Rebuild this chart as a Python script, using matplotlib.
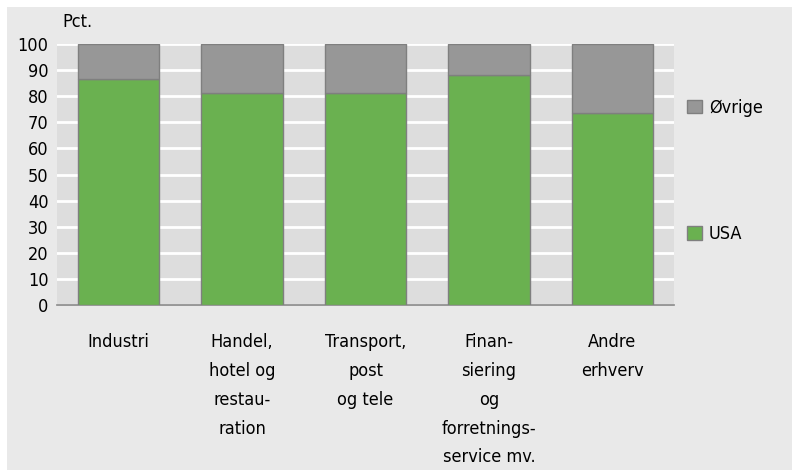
import matplotlib.pyplot as plt
from matplotlib.patches import Rectangle, Patch
import numpy as np

categories = ['Industri', 'Handel,\nhotel og\nrestau-\nration', 'Transport,\npost\nog tele',
              'Finan-\nsiering\nog\nforretnings-\nservice mv.', 'Andre\nerhverv']
usa = [86.5, 81.2, 81.4, 88.0, 73.5]
ovrige = [100 - v for v in usa]

GREEN = '#6ab150'
GREY = '#979797'
EDGE = '#7f7f7f'
PANEL = '#e9e9e9'
PLOTBG = '#dddddd'

plt.rcParams['font.family'] = ['DejaVu Sans']
plt.rcParams['font.stretch'] = 'condensed'
plt.rcParams['font.size'] = 13

W, H = 798, 471
fig = plt.figure(figsize=(W / 100, H / 100), dpi=100, facecolor='white')
fig.patches.append(Rectangle((7 / W, 1 / H), 785 / W, 463 / H, transform=fig.transFigure,
                             facecolor=PANEL, edgecolor='none', zorder=-10))

ax = fig.add_axes([57 / W, 1 - 305 / H, 617 / W, 261 / H])
ax.set_facecolor(PLOTBG)

x = np.arange(len(categories))
ax.bar(x, usa, width=0.66, color=GREEN, edgecolor=EDGE, linewidth=1, zorder=3)
ax.bar(x, ovrige, bottom=usa, width=0.66, color=GREY, edgecolor=EDGE, linewidth=1, zorder=3)

ax.set_xlim(-0.5, len(categories) - 0.5)
ax.set_ylim(0, 100)
ax.set_yticks(range(0, 101, 10))
ax.yaxis.grid(True, color='white', linewidth=2, zorder=1)
ax.set_axisbelow(True)
for s in ['top', 'right', 'left']:
    ax.spines[s].set_visible(False)
ax.spines['bottom'].set_color('#888888')
ax.spines['bottom'].set_linewidth(1.2)
ax.tick_params(axis='both', length=0)
ax.tick_params(axis='y', pad=6)
ax.tick_params(axis='x', pad=20)
ax.set_xticks(x)
ax.set_xticklabels(categories, linespacing=1.78, va='top')

fig.text(62 / W, 1 - 22 / H, 'Pct.', fontsize=13, va='center', ha='left')

handles = [Patch(facecolor=GREY, edgecolor=EDGE, label='Øvrige'),
           Patch(facecolor=GREEN, edgecolor=EDGE, label='USA')]
ax.legend(handles=handles, loc='upper left', bbox_to_anchor=(1.01, 0.818),
          frameon=False, labelspacing=6.0, handlelength=0.8, handleheight=0.8,
          handletextpad=0.4, borderaxespad=0)

fig.savefig('out.png', dpi=100, facecolor='white')
